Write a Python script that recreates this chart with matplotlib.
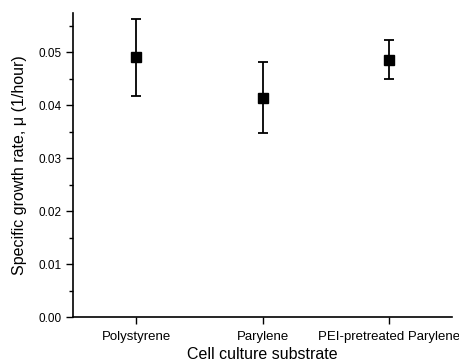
import matplotlib
matplotlib.use("Agg")
import matplotlib.pyplot as plt
from matplotlib.ticker import MultipleLocator

plt.rcParams['font.family'] = ['Liberation Sans', 'DejaVu Sans']

categories = ["Polystyrene", "Parylene", "PEI-pretreated Parylene"]
growth_rate = [0.0490, 0.0414, 0.0486]
errors = [0.0072, 0.0067, 0.0037]

fig = plt.figure(figsize=(4.59, 3.64), dpi=100)
ax = fig.add_axes([73/459, 47/364, 379/459, 304/364])
xs = list(range(1, len(categories) + 1))
ax.errorbar(xs, growth_rate, yerr=errors, fmt='s', color='black', ms=7,
            ecolor='black', elinewidth=1.3, capsize=3.5, capthick=1.3)

ax.set_xlim(0.5, 3.5)
ax.set_ylim(0, 0.0574)
ax.set_xticks(xs)
ax.set_xticklabels(categories, fontsize=9.5)
ax.yaxis.set_minor_locator(MultipleLocator(0.005))
ax.set_yticks([0, 0.01, 0.02, 0.03, 0.04, 0.05])
ax.set_yticklabels(["0.00", "0.01", "0.02", "0.03", "0.04", "0.05"], fontsize=8.5)
ax.tick_params(axis='both', which='major', direction='out', length=5, width=1)
ax.tick_params(axis='y', which='minor', direction='out', length=3, width=1)
ax.tick_params(axis='x', pad=5)
for s in ['top', 'right']:
    ax.spines[s].set_visible(False)
for s in ['left', 'bottom']:
    ax.spines[s].set_linewidth(1.2)

ax.set_xlabel("Cell culture substrate", fontsize=11.5, labelpad=3)
ax.set_ylabel("Specific growth rate, \u03bc (1/hour)", fontsize=11.5, labelpad=8)

fig.savefig("out.png", dpi=100)
